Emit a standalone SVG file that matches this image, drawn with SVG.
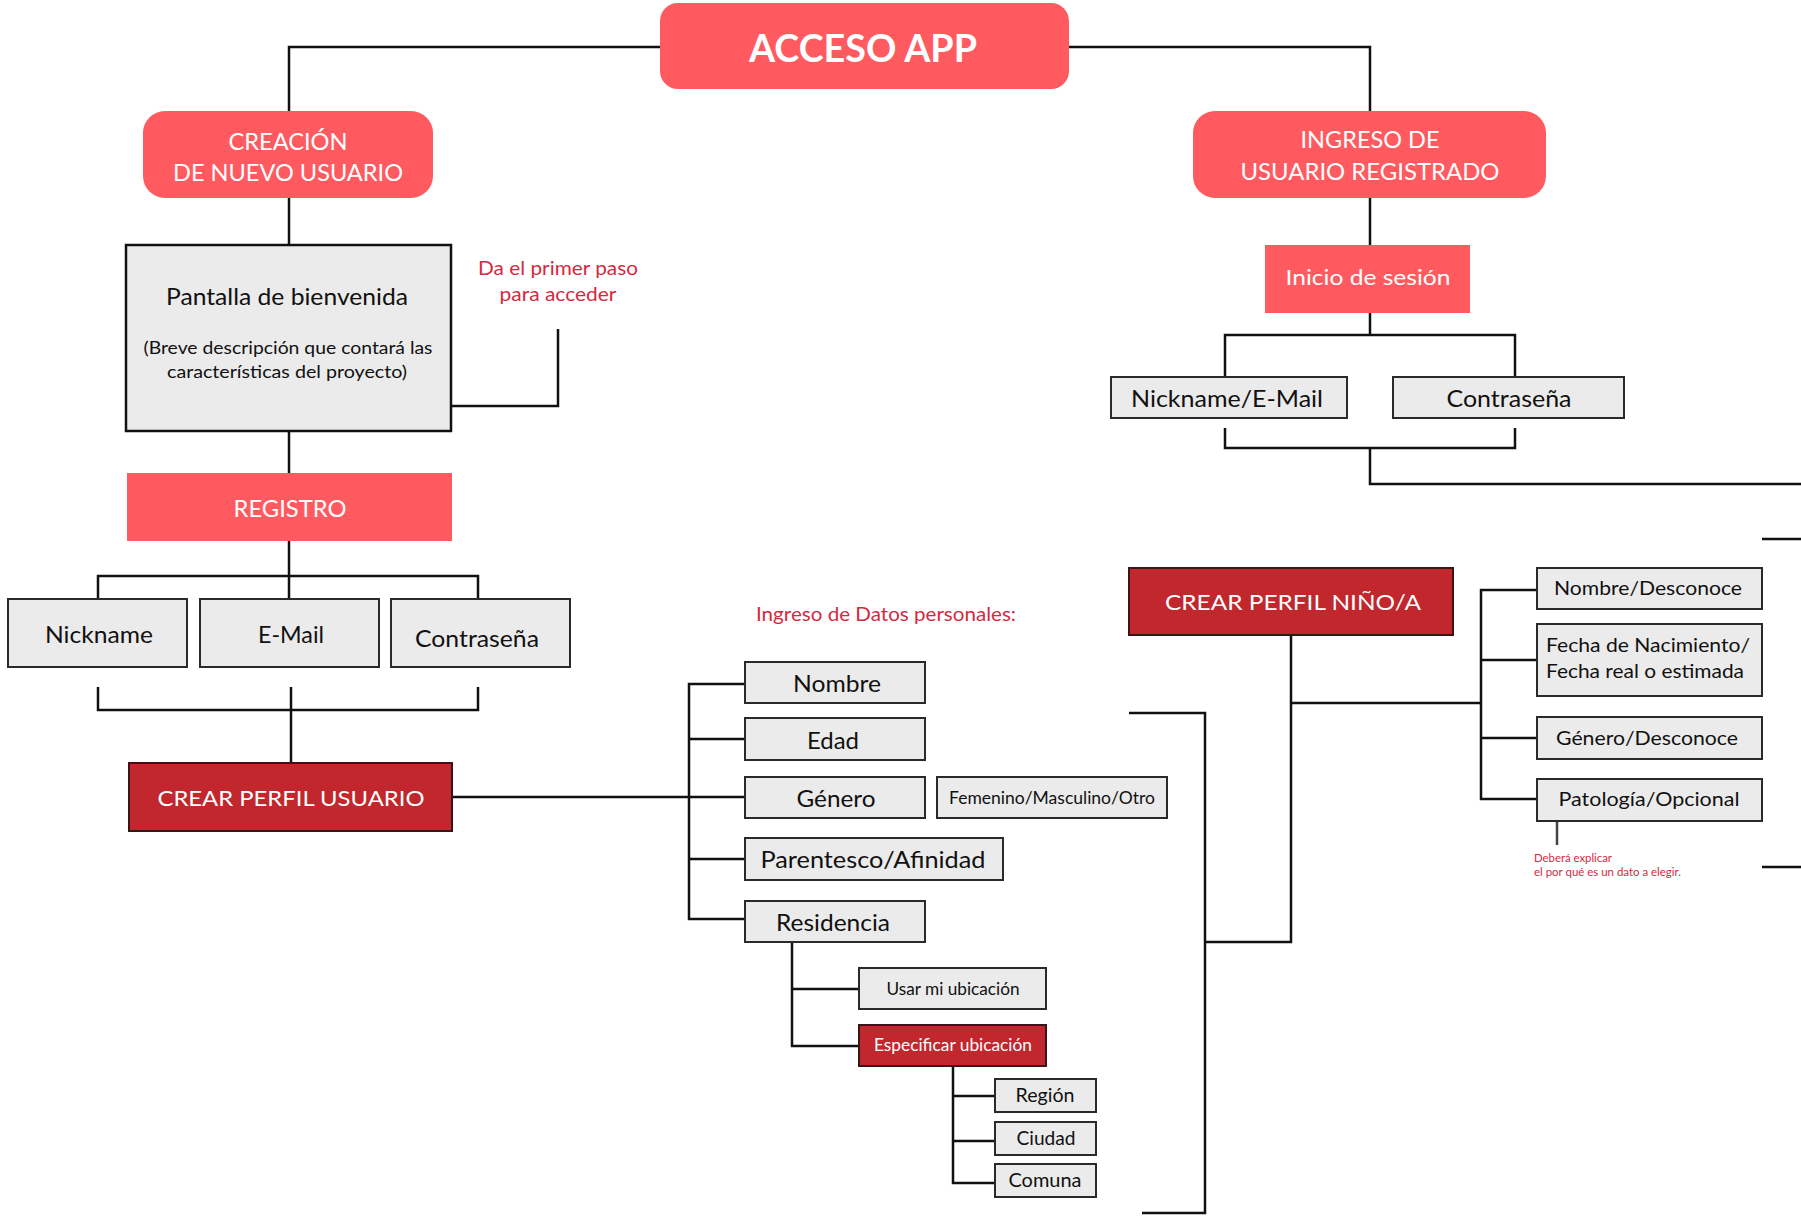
<svg xmlns="http://www.w3.org/2000/svg" width="1801" height="1217" viewBox="0 0 1801 1217">
<style>
text{font-family:Lato,"Open Sans","Liberation Sans",sans-serif;}
.c{text-anchor:middle}
.w{fill:#ffffff}
.k{fill:#111111}
.r{fill:#d42a3f}
.coral{fill:#ff5a5f}
.dark{fill:#c1272d;stroke:#3a1416;stroke-width:2}
.gray{fill:#ebebeb;stroke:#2a2a2a;stroke-width:2}
.big{fill:#ebebeb;stroke:#111;stroke-width:2.5}
#connectors path{fill:none;stroke:#111;stroke-width:2.5}
</style>
<rect width="1801" height="1217" fill="#ffffff"/>
<g id="connectors">
<path d="M660,47 H289 V111"/>
<path d="M1069,47 H1370 V111"/>
<path d="M289,198 V245"/>
<path d="M558,329 V406 H451"/>
<path d="M289,431 V473"/>
<path d="M289,541 V599"/>
<path d="M98,599 V576 H478 V599"/>
<path d="M98,687 V710 H478 V687"/>
<path d="M291,687 V763"/>
<path d="M452,797 H745"/>
<path d="M745,684 H689 V919 H745"/>
<path d="M689,739 H745"/>
<path d="M689,859 H745"/>
<path d="M792,942 V1046 H859"/>
<path d="M792,989 H859"/>
<path d="M953,1066 V1183 H995"/>
<path d="M953,1096 H995"/>
<path d="M953,1141 H995"/>
<path d="M1129,713 H1205 V1213 H1142"/>
<path d="M1205,942 H1291 V635"/>
<path d="M1291,703 H1481"/>
<path d="M1537,590 H1481 V799 H1537"/>
<path d="M1481,660 H1537"/>
<path d="M1481,738 H1537"/>
<path d="M1557,821 V845" style="stroke:#444"/>
<path d="M1762,539 H1801"/>
<path d="M1762,867 H1801"/>
<path d="M1370,198 V245"/>
<path d="M1370,313 V335"/>
<path d="M1225,377 V335 H1515 V377"/>
<path d="M1225,428 V448 H1515 V428"/>
<path d="M1370,448 V484 H1801"/>
</g>
<g id="acceso">
<rect class="coral" x="660" y="3" width="409" height="86" rx="18"/>
<text class="c w" x="863" y="62" font-size="38" font-weight="bold" textLength="228" lengthAdjust="spacingAndGlyphs">ACCESO APP</text>
</g>
<g id="creacion">
<rect class="coral" x="143" y="111" width="290" height="87" rx="22"/>
<text class="c w" x="288" y="150" font-size="23" textLength="119" lengthAdjust="spacingAndGlyphs">CREACIÓN</text>
<text class="c w" x="288" y="181" font-size="23" textLength="230" lengthAdjust="spacingAndGlyphs">DE NUEVO USUARIO</text>
</g>
<g id="ingreso">
<rect class="coral" x="1193" y="111" width="353" height="87" rx="22"/>
<text class="c w" x="1370" y="148" font-size="23" textLength="139" lengthAdjust="spacingAndGlyphs">INGRESO DE</text>
<text class="c w" x="1370" y="180" font-size="23" textLength="259" lengthAdjust="spacingAndGlyphs">USUARIO REGISTRADO</text>
</g>
<g id="pantalla">
<rect class="big" x="126" y="245" width="325" height="186"/>
<text class="c k" x="287" y="305" font-size="24" textLength="242" lengthAdjust="spacingAndGlyphs">Pantalla de bienvenida</text>
<text class="c k" x="288" y="354" font-size="18" textLength="289" lengthAdjust="spacingAndGlyphs">(Breve descripción que contará las</text>
<text class="c k" x="287" y="378" font-size="18" textLength="240" lengthAdjust="spacingAndGlyphs">características del proyecto)</text>
</g>
<g id="nota-primer-paso">
<text class="c r" x="558" y="275" font-size="20" textLength="160" lengthAdjust="spacingAndGlyphs">Da el primer paso</text>
<text class="c r" x="558" y="301" font-size="20" textLength="117" lengthAdjust="spacingAndGlyphs">para acceder</text>
</g>
<g id="registro">
<rect class="coral" x="127" y="473" width="325" height="68"/>
<text class="c w" x="290" y="517" font-size="23" textLength="113" lengthAdjust="spacingAndGlyphs">REGISTRO</text>
</g>
<g id="reg-nickname">
<rect class="gray" x="8" y="599" width="179" height="68"/>
<text class="c k" x="99" y="643" font-size="24" textLength="108" lengthAdjust="spacingAndGlyphs">Nickname</text>
</g>
<g id="reg-email">
<rect class="gray" x="200" y="599" width="179" height="68"/>
<text class="c k" x="291" y="643" font-size="24" textLength="66" lengthAdjust="spacingAndGlyphs">E-Mail</text>
</g>
<g id="reg-contrasena">
<rect class="gray" x="391" y="599" width="179" height="68"/>
<text class="c k" x="477" y="647" font-size="24" textLength="124" lengthAdjust="spacingAndGlyphs">Contraseña</text>
</g>
<g id="crear-perfil-usuario">
<rect class="dark" x="129" y="763" width="323" height="68"/>
<text class="c w" x="291" y="806" font-size="22" textLength="267" lengthAdjust="spacingAndGlyphs">CREAR PERFIL USUARIO</text>
</g>
<g id="inicio-sesion">
<rect class="coral" x="1265" y="245" width="205" height="68"/>
<text class="c w" x="1368" y="285" font-size="22" textLength="165" lengthAdjust="spacingAndGlyphs">Inicio de sesión</text>
</g>
<g id="login-nickname">
<rect class="gray" x="1111" y="377" width="236" height="41"/>
<text class="c k" x="1227" y="407" font-size="23" textLength="192" lengthAdjust="spacingAndGlyphs">Nickname/E-Mail</text>
</g>
<g id="login-contrasena">
<rect class="gray" x="1393" y="377" width="231" height="41"/>
<text class="c k" x="1509" y="407" font-size="23" textLength="125" lengthAdjust="spacingAndGlyphs">Contraseña</text>
</g>
<g id="titulo-datos">
<text class="c r" x="886" y="621" font-size="19" textLength="260" lengthAdjust="spacingAndGlyphs">Ingreso de Datos personales:</text>
</g>
<g id="nombre">
<rect class="gray" x="745" y="662" width="180" height="41"/>
<text class="c k" x="837" y="692" font-size="23" textLength="88" lengthAdjust="spacingAndGlyphs">Nombre</text>
</g>
<g id="edad">
<rect class="gray" x="745" y="718" width="180" height="42"/>
<text class="c k" x="833" y="749" font-size="23" textLength="52" lengthAdjust="spacingAndGlyphs">Edad</text>
</g>
<g id="genero">
<rect class="gray" x="745" y="777" width="180" height="41"/>
<text class="c k" x="836" y="807" font-size="23" textLength="79" lengthAdjust="spacingAndGlyphs">Género</text>
</g>
<g id="genero-opciones">
<rect class="gray" x="937" y="777" width="230" height="41"/>
<text class="c k" x="1052" y="804" font-size="17" textLength="206" lengthAdjust="spacingAndGlyphs">Femenino/Masculino/Otro</text>
</g>
<g id="parentesco">
<rect class="gray" x="745" y="838" width="258" height="42"/>
<text class="c k" x="873" y="868" font-size="23" textLength="225" lengthAdjust="spacingAndGlyphs">Parentesco/Afinidad</text>
</g>
<g id="residencia">
<rect class="gray" x="745" y="901" width="180" height="41"/>
<text class="c k" x="833" y="931" font-size="23" textLength="114" lengthAdjust="spacingAndGlyphs">Residencia</text>
</g>
<g id="usar-ubicacion">
<rect class="gray" x="859" y="968" width="187" height="41"/>
<text class="c k" x="953" y="995" font-size="17" textLength="133" lengthAdjust="spacingAndGlyphs">Usar mi ubicación</text>
</g>
<g id="especificar-ubicacion">
<rect class="dark" x="859" y="1025" width="187" height="41"/>
<text class="c w" x="953" y="1051" font-size="17" textLength="158" lengthAdjust="spacingAndGlyphs">Especificar ubicación</text>
</g>
<g id="region">
<rect class="gray" x="995" y="1079" width="101" height="33"/>
<text class="c k" x="1045" y="1102" font-size="20" textLength="59" lengthAdjust="spacingAndGlyphs">Región</text>
</g>
<g id="ciudad">
<rect class="gray" x="995" y="1122" width="101" height="33"/>
<text class="c k" x="1046" y="1145" font-size="20" textLength="59" lengthAdjust="spacingAndGlyphs">Ciudad</text>
</g>
<g id="comuna">
<rect class="gray" x="995" y="1164" width="101" height="33"/>
<text class="c k" x="1045" y="1187" font-size="20" textLength="73" lengthAdjust="spacingAndGlyphs">Comuna</text>
</g>
<g id="crear-perfil-nino">
<rect class="dark" x="1129" y="568" width="324" height="67"/>
<text class="c w" x="1293" y="610" font-size="22" textLength="256" lengthAdjust="spacingAndGlyphs">CREAR PERFIL NIÑO/A</text>
</g>
<g id="nino-nombre">
<rect class="gray" x="1537" y="568" width="225" height="41"/>
<text class="c k" x="1648" y="595" font-size="20" textLength="188" lengthAdjust="spacingAndGlyphs">Nombre/Desconoce</text>
</g>
<g id="nino-fecha">
<rect class="gray" x="1537" y="624" width="225" height="72"/>
<text class="k" x="1546" y="652" font-size="20" textLength="204" lengthAdjust="spacingAndGlyphs">Fecha de Nacimiento/</text>
<text class="k" x="1546" y="678" font-size="20" textLength="198" lengthAdjust="spacingAndGlyphs">Fecha real o estimada</text>
</g>
<g id="nino-genero">
<rect class="gray" x="1537" y="717" width="225" height="42"/>
<text class="c k" x="1647" y="745" font-size="20" textLength="182" lengthAdjust="spacingAndGlyphs">Género/Desconoce</text>
</g>
<g id="nino-patologia">
<rect class="gray" x="1537" y="779" width="225" height="42"/>
<text class="c k" x="1649" y="806" font-size="20" textLength="181" lengthAdjust="spacingAndGlyphs">Patología/Opcional</text>
</g>
<g id="nota-patologia">
<text class="r" x="1534" y="862" font-size="11" textLength="78" lengthAdjust="spacingAndGlyphs">Deberá explicar</text>
<text class="r" x="1534" y="876" font-size="11" textLength="147" lengthAdjust="spacingAndGlyphs">el por qué es un dato a elegir.</text>
</g>
</svg>
